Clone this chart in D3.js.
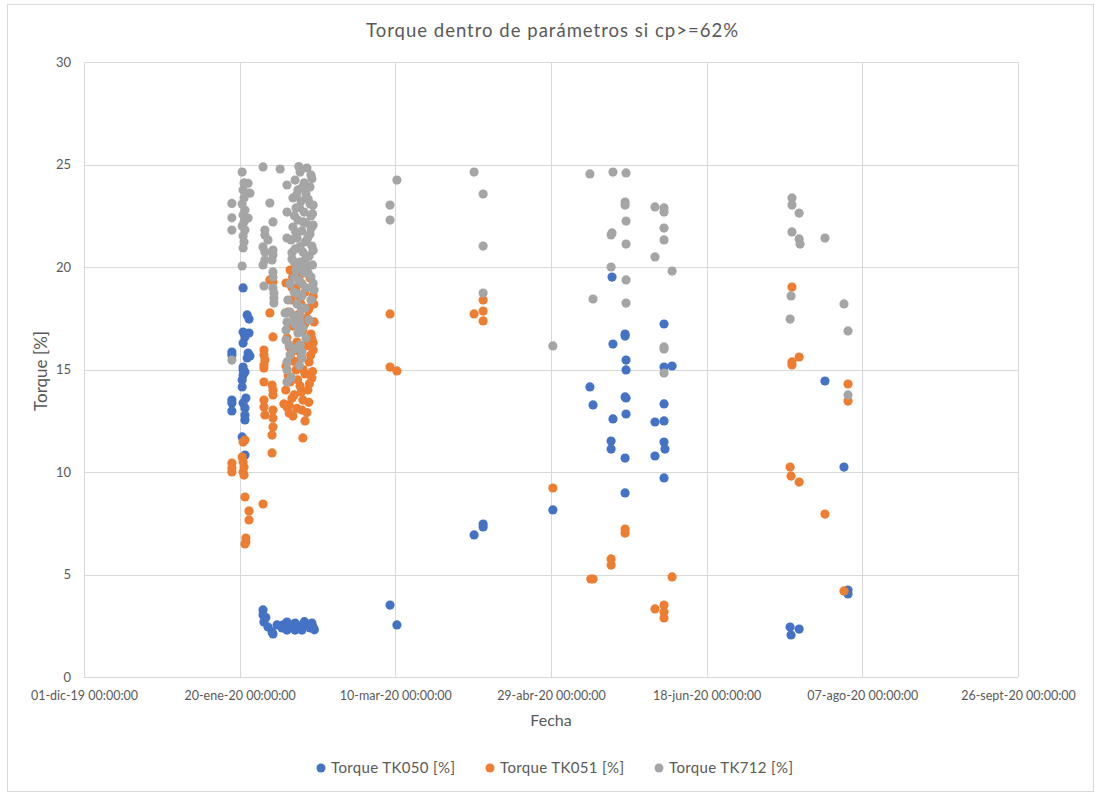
<!DOCTYPE html>
<html>
<head>
<meta charset="utf-8">
<script src="https://cdn.jsdelivr.net/npm/d3@7"></script>
<style>
    body { margin: 0; background: #fff; }
    #graph text { font-family: Lato, "Open Sans", sans-serif; fill: #595959; }
</style>
</head>
<body>
<div id="graph"></div>
<script>
// Excel date serials (days since 30-dic-1899) and torque values [%]
const tk050 = [
    [43847.5, 15.85], [43847.5, 15.71], [43847.5, 13.51], [43847.5, 13.37], [43847.5, 12.98],
    [43851.1, 18.98], [43852.4, 17.66], [43853.0, 17.46], [43851.1, 16.83], [43853.0, 16.78],
    [43851.7, 16.59], [43851.1, 16.29], [43852.7, 15.80], [43852.4, 15.56], [43853.3, 15.66],
    [43851.1, 15.12], [43851.1, 14.98], [43851.7, 14.88], [43851.1, 14.73], [43850.8, 14.49],
    [43850.8, 14.15], [43852.0, 13.61], [43851.1, 13.37], [43851.7, 13.12], [43851.7, 12.78],
    [43851.7, 12.54], [43850.8, 11.71], [43851.7, 10.83],
    [43857.5, 3.27], [43857.5, 3.02], [43857.8, 2.68], [43859.1, 2.44], [43860.4, 2.20],
    [43862.0, 2.54], [43863.6, 2.39], [43865.2, 2.68], [43866.8, 2.39], [43867.8, 2.63],
    [43869.4, 2.44], [43871.0, 2.54], [43872.6, 2.39], [43873.2, 2.63], [43873.6, 2.44],
    [43870.0, 2.29], [43867.8, 2.29], [43865.2, 2.29], [43860.7, 2.10], [43858.4, 2.90],
    [43864.0, 2.55], [43868.6, 2.50], [43870.8, 2.70], [43874.0, 2.30],
    [43898.3, 3.51], [43900.5, 2.54],
    [43928.2, 7.46], [43928.2, 7.32], [43925.3, 6.93],
    [43950.6, 8.15],
    [43969.6, 19.51], [43986.3, 17.22], [43973.8, 16.73], [43973.8, 16.63], [43969.9, 16.24],
    [43974.1, 15.46], [43974.1, 14.98], [43986.3, 15.12], [43988.9, 15.17], [43962.5, 14.15],
    [43963.5, 13.27], [43973.8, 13.66], [43974.1, 13.61], [43974.1, 12.83], [43969.9, 12.59],
    [43986.3, 13.32], [43983.4, 12.44], [43986.3, 12.49], [43969.3, 11.51], [43969.3, 11.12],
    [43973.8, 10.68], [43986.3, 11.46], [43986.6, 11.12], [43983.4, 10.78], [43986.3, 9.71],
    [43973.8, 8.98],
    [44038.0, 14.44], [44044.1, 10.24], [44045.4, 4.24], [44045.4, 4.05],
    [44026.8, 2.44], [44029.7, 2.34], [44027.1, 2.05]
];

const tk051 = [
    [43847.5, 10.44], [43847.5, 10.20], [43847.5, 10.00],
    [43851.7, 11.56], [43851.1, 11.46], [43850.8, 10.73], [43851.1, 10.49], [43851.4, 10.24],
    [43851.1, 10.00], [43851.4, 9.85], [43851.7, 8.78], [43853.0, 8.10], [43853.0, 7.66],
    [43852.0, 6.78], [43852.0, 6.59], [43851.7, 6.49], [43857.5, 8.44],
    [43859.7, 19.37], [43860.7, 19.27], [43859.7, 17.76], [43860.7, 16.59], [43857.8, 15.95],
    [43857.8, 15.71], [43858.1, 15.46], [43857.8, 15.22], [43857.8, 15.07], [43857.8, 14.39],
    [43860.4, 14.24], [43860.7, 14.00], [43860.7, 13.76], [43857.8, 13.51], [43857.8, 13.17],
    [43858.1, 12.78], [43860.7, 13.02], [43860.7, 12.63], [43860.7, 12.20], [43860.4, 11.80],
    [43860.4, 10.93],
    [43866.2, 19.85], [43869.4, 19.61], [43872.6, 19.46], [43864.9, 19.22], [43868.1, 18.98],
    [43871.0, 18.78], [43873.6, 18.59], [43866.5, 18.39], [43869.7, 18.20], [43872.3, 18.00],
    [43865.5, 17.80], [43868.7, 17.66], [43871.6, 17.51], [43873.9, 17.32], [43867.1, 17.12],
    [43870.3, 16.93], [43872.9, 16.73], [43865.2, 16.54], [43868.4, 16.34], [43871.3, 16.15],
    [43873.6, 15.95], [43866.5, 15.76], [43869.7, 15.56], [43872.3, 15.37], [43864.9, 15.17],
    [43868.1, 14.98], [43871.0, 14.78], [43873.2, 14.59], [43866.2, 14.39], [43869.4, 14.20],
    [43871.9, 14.00], [43867.5, 13.76], [43870.3, 13.51], [43865.9, 13.27], [43870.0, 13.02],
    [43867.1, 12.73], [43871.0, 12.49], [43870.3, 11.66], [43864.2, 13.32], [43865.2, 13.17],
    [43865.9, 12.88],
    [43866.8, 19.00], [43869.0, 18.60], [43872.0, 17.90], [43867.8, 17.50], [43870.8, 17.20],
    [43873.2, 16.50], [43866.0, 16.10], [43869.0, 15.90], [43872.8, 15.70], [43867.4, 15.40],
    [43870.4, 15.00], [43873.4, 14.90], [43865.6, 14.70], [43868.6, 14.50], [43872.4, 14.30],
    [43869.8, 13.90], [43866.8, 13.60], [43872.2, 13.40], [43868.4, 13.10], [43871.6, 12.90],
    [43864.8, 14.00], [43873.6, 16.30], [43873.8, 18.20], [43871.6, 19.90], [43867.0, 19.50],
    [43898.3, 17.71], [43898.3, 15.12], [43900.5, 14.93],
    [43928.2, 18.39], [43925.3, 17.71], [43928.2, 17.85], [43928.2, 17.37],
    [43950.6, 9.22], [43973.8, 7.22], [43973.8, 7.02], [43969.3, 5.76], [43969.3, 5.46],
    [43962.8, 4.78], [43963.5, 4.78], [43988.9, 4.88], [43983.4, 3.32], [43986.3, 3.51],
    [43986.3, 3.17], [43986.3, 2.88],
    [44027.4, 19.02], [44029.7, 15.61], [44027.4, 15.37], [44027.4, 15.22], [44045.4, 14.29],
    [44045.4, 13.46], [44026.8, 10.24], [44027.1, 9.80], [44029.7, 9.51], [44038.0, 7.95],
    [44044.1, 4.20]
];

const tk712 = [
    [43847.5, 23.10], [43847.5, 22.40], [43847.5, 21.80], [43847.5, 15.46],
    [43850.8, 24.63], [43851.4, 24.10], [43852.7, 24.08], [43851.1, 23.76], [43853.3, 23.60],
    [43851.4, 23.37], [43850.8, 23.07], [43851.7, 22.78], [43851.1, 22.54], [43852.7, 22.39],
    [43851.4, 22.20], [43850.8, 22.00], [43851.7, 21.80], [43851.1, 21.51], [43851.4, 21.22],
    [43851.1, 20.93], [43850.8, 20.05],
    [43857.5, 24.88], [43863.0, 24.78], [43859.7, 23.12], [43860.7, 22.20], [43858.1, 21.80],
    [43858.1, 21.56], [43859.1, 21.32], [43857.5, 20.98], [43860.7, 20.83], [43858.1, 20.73],
    [43860.7, 20.59], [43860.4, 20.34], [43858.1, 20.34], [43857.5, 20.10], [43860.7, 19.76],
    [43860.7, 19.51], [43857.8, 19.07], [43860.7, 18.98], [43861.0, 18.73], [43861.0, 18.49],
    [43861.0, 18.24], [43865.2, 24.00], [43865.2, 22.68], [43865.2, 21.41],
    [43871.6, 24.83], [43869.4, 24.63], [43872.9, 24.49], [43867.8, 24.24], [43870.7, 24.10],
    [43872.6, 23.90], [43868.7, 23.76], [43871.3, 23.56], [43867.1, 23.37], [43869.7, 23.22],
    [43872.6, 23.07], [43868.1, 22.88], [43870.7, 22.68], [43872.9, 22.49], [43868.7, 22.29],
    [43871.3, 22.15], [43867.1, 21.95], [43870.0, 21.76], [43872.6, 21.61], [43868.4, 21.41],
    [43871.0, 21.22], [43873.2, 21.02], [43867.8, 20.88], [43870.3, 20.73], [43872.3, 20.54],
    [43866.8, 20.39], [43869.4, 20.24], [43871.6, 20.05], [43868.1, 19.85], [43870.7, 19.71],
    [43872.9, 19.51], [43869.1, 19.32], [43866.2, 19.17], [43871.3, 18.98], [43867.5, 18.78],
    [43870.0, 18.59], [43872.9, 18.39], [43868.4, 18.20], [43871.0, 18.00], [43866.2, 17.80],
    [43869.4, 17.66], [43872.3, 17.41], [43867.8, 17.22], [43870.3, 17.02], [43868.7, 16.78],
    [43871.3, 16.54], [43869.4, 16.20], [43866.2, 15.71], [43867.5, 20.24], [43865.5, 18.39],
    [43866.5, 21.32], [43864.9, 16.93], [43865.9, 16.20], [43864.6, 17.76], [43865.2, 17.32],
    [43864.9, 16.44], [43865.2, 15.37], [43865.2, 14.98], [43865.2, 14.39], [43869.4, 17.27],
    [43869.4, 16.83], [43870.0, 15.85], [43870.0, 15.56], [43873.6, 23.02],
    [43873.6, 22.05], [43873.9, 18.88],
    [43869.0, 24.90], [43873.2, 24.30], [43870.2, 23.90], [43868.2, 23.50], [43872.0, 23.30],
    [43869.2, 22.90], [43873.4, 22.60], [43867.6, 22.50], [43870.4, 22.20], [43873.0, 21.90],
    [43868.0, 21.70], [43871.8, 21.40], [43869.4, 21.00], [43873.6, 20.80], [43866.8, 20.70],
    [43871.2, 20.40], [43873.4, 20.10], [43868.8, 20.00], [43872.0, 19.70], [43867.6, 19.50],
    [43870.0, 19.20], [43873.6, 19.20], [43868.6, 18.70], [43869.8, 18.00],
    [43867.4, 17.60], [43869.0, 17.00],
    [43867.6, 16.00], [43869.2, 15.20], [43866.6, 14.60],
    [43900.5, 24.24], [43898.3, 23.02], [43898.3, 22.29],
    [43925.3, 24.63], [43928.2, 23.56], [43928.2, 21.02], [43928.2, 18.73],
    [43950.6, 16.15], [43962.5, 24.54], [43969.9, 24.63], [43974.1, 24.59], [43973.8, 23.17],
    [43973.8, 23.02], [43974.1, 22.24], [43969.6, 21.66], [43969.3, 21.56], [43974.1, 21.12],
    [43983.4, 22.93], [43986.3, 22.88], [43986.3, 22.68], [43986.3, 21.90], [43986.3, 21.32],
    [43983.4, 20.49], [43969.3, 20.00], [43988.9, 19.80], [43974.1, 19.37], [43963.5, 18.44],
    [43974.1, 18.24], [43986.3, 16.10], [43986.3, 16.00], [43986.3, 14.83],
    [44027.4, 23.37], [44027.4, 23.02], [44029.7, 22.63], [44027.4, 21.71], [44029.7, 21.37],
    [44030.0, 21.12], [44038.0, 21.41], [44027.1, 18.59], [44026.8, 17.46], [44044.1, 18.20],
    [44045.4, 16.88], [44045.4, 13.76]
];

const seriesNames = ["Torque TK050 [%]", "Torque TK051 [%]", "Torque TK712 [%]"];
const seriesColors = ["#4472C4", "#ED7D31", "#A5A5A5"];
const xTicks = [43800, 43850, 43900, 43950, 44000, 44050, 44100];
const yTicks = [0, 5, 10, 15, 20, 25, 30];

const scatterChart = {
    init: function (width, height) {
        this.width = width;
        this.height = height;
        this.plot = { left: 84, right: 1018, top: 62, bottom: 677 };

        this.svg = d3.select("#graph").append("svg")
            .attr("width", width)
            .attr("height", height);

        // Chart area border
        this.svg.append("rect")
            .attr("x", 7.5).attr("y", 4.5)
            .attr("width", 1086).attr("height", 787)
            .attr("fill", "#fff").attr("stroke", "#D9D9D9");

        this.draw();
    },

    toDate: function (serial) {
        return new Date(Date.UTC(1899, 11, 30) + serial * 864e5);
    },

    draw: function () {
        const p = this.plot;
        const locale = d3.timeFormatLocale({
            dateTime: "%x %X", date: "%d/%m/%Y", time: "%H:%M:%S",
            periods: ["AM", "PM"],
            days: ["domingo", "lunes", "martes", "miércoles", "jueves", "viernes", "sábado"],
            shortDays: ["dom", "lun", "mar", "mié", "jue", "vie", "sáb"],
            months: ["enero", "febrero", "marzo", "abril", "mayo", "junio", "julio", "agosto", "septiembre", "octubre", "noviembre", "diciembre"],
            shortMonths: ["ene", "feb", "mar", "abr", "may", "jun", "jul", "ago", "sept", "oct", "nov", "dic"]
        });
        const fmt = locale.utcFormat("%d-%b-%y %H:%M:%S");

        const xScale = d3.scaleUtc()
            .domain([this.toDate(xTicks[0]), this.toDate(xTicks[xTicks.length - 1])])
            .range([p.left, p.right]);
        const yScale = d3.scaleLinear()
            .domain([0, 30])
            .range([p.bottom, p.top]);

        // Gridlines
        const grid = this.svg.append("g");
        grid.selectAll("line.h").data(yTicks).join("line")
            .attr("x1", p.left).attr("x2", p.right)
            .attr("y1", d => Math.round(yScale(d)) + 0.5).attr("y2", d => Math.round(yScale(d)) + 0.5)
            .attr("stroke", "#D9D9D9");
        grid.selectAll("line.v").data(xTicks).join("line")
            .attr("x1", d => Math.round(xScale(this.toDate(d))) + 0.5).attr("x2", d => Math.round(xScale(this.toDate(d))) + 0.5)
            .attr("y1", p.top).attr("y2", p.bottom)
            .attr("stroke", "#D9D9D9");

        // Axes
        const bottomAxis = d3.axisBottom(xScale)
            .tickValues(xTicks.map(d => this.toDate(d)))
            .tickFormat(fmt).tickSize(0).tickPadding(14);
        const gx = this.svg.append("g")
            .attr("transform", `translate(0, ${p.bottom})`)
            .call(bottomAxis);
        gx.select(".domain").remove();
        gx.selectAll("text").style("font-size", "12.5px");

        const leftAxis = d3.axisLeft(yScale)
            .tickValues(yTicks).tickSize(0).tickPadding(13);
        const gy = this.svg.append("g")
            .attr("transform", `translate(${p.left}, 0)`)
            .call(leftAxis);
        gy.select(".domain").remove();
        gy.selectAll("text").style("font-size", "13px");

        // Points, one group per series
        [tk050, tk051, tk712].forEach((data, i) => {
            this.svg.append("g").selectAll("circle").data(data).join("circle")
                .attr("cx", d => xScale(this.toDate(d[0])))
                .attr("cy", d => yScale(d[1]))
                .attr("r", 4.6)
                .attr("fill", seriesColors[i]);
        });

        // Titles
        this.svg.append("text")
            .attr("x", 552).attr("y", 37)
            .attr("text-anchor", "middle")
            .attr("textLength", 372).attr("lengthAdjust", "spacing")
            .style("font-size", "18.5px")
            .text("Torque dentro de parámetros si cp>=62%");
        this.svg.append("text")
            .attr("x", 551).attr("y", 726)
            .attr("text-anchor", "middle")
            .style("font-size", "16px")
            .text("Fecha");
        this.svg.append("text")
            .attr("text-anchor", "middle")
            .attr("transform", "translate(47, 371) rotate(-90)")
            .attr("textLength", 80).attr("lengthAdjust", "spacing")
            .style("font-size", "17px")
            .text("Torque [%]");

        // Legend
        const legendX = [321, 490, 659];
        const legend = this.svg.append("g");
        seriesNames.forEach((name, i) => {
            legend.append("circle")
                .attr("cx", legendX[i]).attr("cy", 768).attr("r", 4.5)
                .attr("fill", seriesColors[i]);
            legend.append("text")
                .attr("x", legendX[i] + 10).attr("y", 773)
                .attr("textLength", 124).attr("lengthAdjust", "spacing")
                .style("font-size", "15px")
                .text(name);
        });
    }
};

document.addEventListener("DOMContentLoaded", function () {
    scatterChart.init(1095, 793);
});
</script>
</body>
</html>
